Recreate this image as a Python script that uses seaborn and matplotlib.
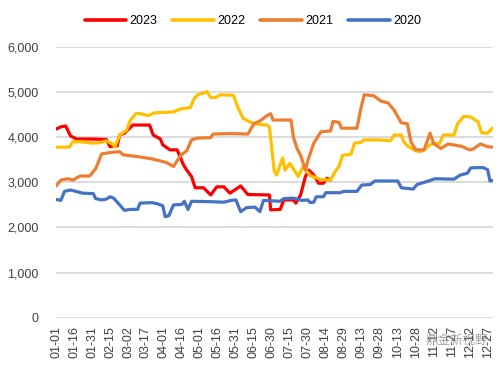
import matplotlib
matplotlib.use("Agg")
import matplotlib.pyplot as plt
import matplotlib.dates as mdates
import seaborn as sns
import pandas as pd

# ---- data (MM-DD, value) ----
dates_2023 = ["01-01", "01-05", "01-09", "01-13", "01-18", "01-31", "02-12", "02-15", "02-21", "02-23",
              "02-27", "03-06", "03-20", "03-23", "03-29", "03-31", "04-06", "04-12", "04-17", "04-20",
              "04-24", "04-27", "05-04", "05-10", "05-15", "05-21", "05-26", "06-04", "06-10", "06-28",
              "06-29", "07-07", "07-10", "07-18", "07-20", "07-24", "07-28", "07-31", "08-04", "08-08",
              "08-12", "08-15", "08-18"]
values_2023 = [4180, 4230, 4250, 4030, 3960, 3960, 3950, 3790, 3810, 4050,
               4090, 4270, 4270, 4050, 3960, 3830, 3720, 3720, 3400, 3270,
               3130, 2880, 2880, 2720, 2900, 2900, 2760, 2920, 2730, 2720,
               2390, 2400, 2610, 2610, 2540, 2720, 3130, 3270, 3160, 2980,
               2980, 3090, 3050]

dates_2022 = ["01-01", "01-12", "01-15", "01-21", "01-31", "02-07", "02-12", "02-17", "02-19", "02-23",
              "03-01", "03-04", "03-09", "03-12", "03-19", "03-24", "04-09", "04-14", "04-23", "04-26",
              "04-29", "05-07", "05-10", "05-14", "05-18", "05-29", "06-01", "06-06", "06-12", "06-20",
              "06-26", "06-28", "07-02", "07-04", "07-09", "07-11", "07-15", "07-18", "07-22", "07-26",
              "08-01", "08-10", "08-18", "08-22", "08-25", "08-28", "09-04", "09-07", "09-12", "09-15",
              "09-29", "10-07", "10-10", "10-16", "10-18", "10-22", "10-28", "11-01", "11-04", "11-07",
              "11-10", "11-17", "11-20", "11-29", "12-02", "12-07", "12-13", "12-19", "12-22", "12-27",
              "12-31"]
values_2022 = [3780, 3780, 3900, 3900, 3870, 3880, 3920, 3850, 3780, 4050,
               4160, 4380, 4530, 4520, 4480, 4540, 4560, 4620, 4660, 4850,
               4940, 5010, 4880, 4880, 4940, 4930, 4700, 4420, 4330, 4280,
               4270, 4220, 3250, 3160, 3540, 3270, 3420, 3300, 3130, 3350,
               3150, 3060, 3050, 3250, 3350, 3600, 3620, 3870, 3880, 3940,
               3940, 3920, 4050, 4050, 3900, 3790, 3700, 3680, 3720, 3790,
               3850, 3860, 4050, 4050, 4300, 4460, 4450, 4340, 4100, 4090,
               4200]

dates_2021 = ["01-01", "01-05", "01-11", "01-15", "01-21", "01-29", "02-03", "02-08", "02-15", "02-23",
              "02-26", "03-10", "03-22", "04-03", "04-09", "04-15", "04-20", "04-24", "04-29", "05-10",
              "05-12", "05-26", "06-10", "06-15", "06-20", "06-26", "06-29", "07-01", "07-16", "07-18",
              "07-21", "07-24", "07-28", "07-30", "08-04", "08-10", "08-18", "08-20", "08-25", "08-27",
              "09-09", "09-12", "09-15", "09-23", "09-29", "10-05", "10-10", "10-16", "10-21", "10-24",
              "10-28", "11-04", "11-09", "11-12", "11-18", "11-24", "12-05", "12-12", "12-15", "12-21",
              "12-27", "12-31"]
values_2021 = [2920, 3050, 3080, 3050, 3140, 3140, 3300, 3630, 3660, 3680,
               3610, 3570, 3520, 3440, 3350, 3600, 3700, 3940, 3980, 3990,
               4070, 4080, 4070, 4300, 4360, 4480, 4520, 4380, 4380, 4000,
               3750, 3600, 3270, 3480, 3870, 4120, 4140, 4350, 4330, 4200,
               4200, 4600, 4940, 4920, 4800, 4760, 4600, 4320, 4300, 3900,
               3720, 3720, 4090, 3860, 3750, 3850, 3800, 3720, 3740, 3850,
               3790, 3780]

dates_2020 = ["01-01", "01-05", "01-08", "01-13", "01-19", "01-23", "02-01", "02-03", "02-08", "02-12",
              "02-15", "02-18", "02-23", "02-27", "03-04", "03-10", "03-12", "03-22", "03-27", "03-31",
              "04-02", "04-05", "04-09", "04-16", "04-18", "04-21", "04-24", "05-11", "05-21", "05-27",
              "05-31", "06-04", "06-09", "06-16", "06-20", "06-23", "07-07", "07-10", "07-18", "07-25",
              "07-30", "08-01", "08-04", "08-06", "08-12", "08-14", "08-26", "08-29", "09-09", "09-13",
              "09-20", "09-24", "10-13", "10-16", "10-26", "10-29", "11-09", "11-13", "11-29", "12-04",
              "12-10", "12-13", "12-23", "12-27", "12-29", "12-31"]
values_2020 = [2620, 2600, 2800, 2830, 2790, 2760, 2750, 2640, 2610, 2630,
               2680, 2650, 2500, 2380, 2400, 2400, 2540, 2550, 2520, 2480,
               2240, 2260, 2500, 2510, 2580, 2400, 2580, 2570, 2560, 2600,
               2610, 2350, 2440, 2450, 2350, 2600, 2580, 2640, 2650, 2600,
               2610, 2550, 2560, 2680, 2680, 2770, 2770, 2800, 2800, 2940,
               2950, 3030, 3030, 2880, 2850, 2950, 3040, 3080, 3070, 3160,
               3200, 3320, 3330, 3280, 3030, 3040]

series_names = ["2023", "2022", "2021", "2020"]
series_dates = [dates_2023, dates_2022, dates_2021, dates_2020]
series_values = [values_2023, values_2022, values_2021, values_2020]
series_colors = ["#FF0000", "#FFC000", "#ED7D31", "#4472C4"]

y_ticks = [0, 1000, 2000, 3000, 4000, 5000, 6000]
y_tick_labels = ["0", "1,000", "2,000", "3,000", "4,000", "5,000", "6,000"]
x_tick_labels = ["01-01", "01-16", "01-31", "02-15", "03-02", "03-17", "04-01", "04-16", "05-01",
                 "05-16", "05-31", "06-15", "06-30", "07-15", "07-30", "08-14", "08-29", "09-13",
                 "09-28", "10-13", "10-28", "11-12", "11-27", "12-12", "12-27"]

BASE_YEAR = "2021-"

# ---- build frame ----
frames = []
for name, d, v in zip(series_names, series_dates, series_values):
    frames.append(pd.DataFrame({"date": pd.to_datetime([BASE_YEAR + s for s in d]),
                                "value": v, "year": name}))
df = pd.concat(frames, ignore_index=True)

sns.set_theme(style="white")
plt.rcParams["font.family"] = ["Liberation Sans", "DejaVu Sans"]
text_color = "#404040"

fig = plt.figure(figsize=(5.0, 3.65), dpi=100)
ax = fig.add_axes([0.111, 0.1296, 0.875, 0.7417])

handles = []
for i, (name, col) in enumerate(zip(series_names, series_colors)):
    sub = df[df["year"] == name]
    sns.lineplot(data=sub, x="date", y="value", ax=ax, color=col, linewidth=2.3,
                 legend=False, zorder=3 + i, estimator=None, sort=False)
    handles.append(plt.Line2D([], [], color=col, linewidth=2.6, label=name))

ax.set_ylim(0, 6000)
ax.set_yticks(y_ticks)
ax.set_yticklabels(y_tick_labels)
x0 = pd.Timestamp(BASE_YEAR + "01-01")
ax.set_xlim(x0 - pd.Timedelta(hours=12), pd.Timestamp(BASE_YEAR + "12-31") + pd.Timedelta(hours=12))
xt = pd.to_datetime([BASE_YEAR + s for s in x_tick_labels])
ax.set_xticks(xt)
ax.set_xticklabels(x_tick_labels, rotation=90)
ax.set_xlabel("")
ax.set_ylabel("")

ax.grid(axis="y", color="#D9D9D9", linewidth=1.3, zorder=0)
ax.grid(axis="x", visible=False)
ax.set_axisbelow(True)
for s in ax.spines.values():
    s.set_visible(False)
ax.tick_params(axis="y", length=0, pad=12, labelsize=9, labelcolor=text_color)
ax.tick_params(axis="x", length=0, pad=6, labelsize=9, labelcolor=text_color)

fig.legend(handles=handles, loc="center", bbox_to_anchor=(0.506, 0.942), ncol=4,
           frameon=False, fontsize=9, handlelength=3.3, handletextpad=0.3,
           columnspacing=1.2, labelcolor="#000000")

# watermark
fig.text(0.85, 0.068, "鼎金新视野", fontsize=9, color="#8c8c8c", alpha=0.8,
         family=["Noto Sans CJK SC", "DejaVu Sans"], ha="left", va="center", zorder=10)

fig.savefig("out.png", dpi=100)
